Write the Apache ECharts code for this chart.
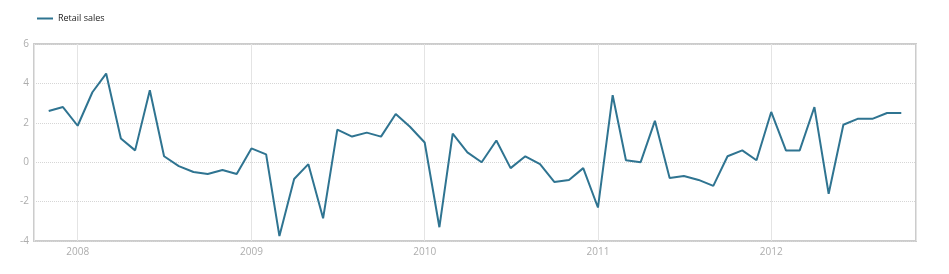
<!DOCTYPE html>
<html>
<head>
<meta charset="utf-8">
<script src="https://cdn.jsdelivr.net/npm/echarts@6/dist/echarts.min.js"></script>
<style>html,body{margin:0;padding:0;background:#fff}#c{width:949px;height:274px}</style>
</head>
<body>
<div id="c"></div>
<script>
const seriesName = 'Retail sales';
const months = [
  '2007-11','2007-12',
  '2008-01','2008-02','2008-03','2008-04','2008-05','2008-06','2008-07','2008-08','2008-09','2008-10','2008-11','2008-12',
  '2009-01','2009-02','2009-03','2009-04','2009-05','2009-06','2009-07','2009-08','2009-09','2009-10','2009-11','2009-12',
  '2010-01','2010-02','2010-03','2010-04','2010-05','2010-06','2010-07','2010-08','2010-09','2010-10','2010-11','2010-12',
  '2011-01','2011-02','2011-03','2011-04','2011-05','2011-06','2011-07','2011-08','2011-09','2011-10','2011-11','2011-12',
  '2012-01','2012-02','2012-03','2012-04','2012-05','2012-06','2012-07','2012-08','2012-09','2012-10'
];
const values = [
  2.6, 2.8,
  1.85, 3.55, 4.5, 1.2, 0.6, 3.65, 0.3, -0.2, -0.5, -0.6, -0.4, -0.6,
  0.7, 0.4, -3.75, -0.85, -0.1, -2.85, 1.65, 1.3, 1.5, 1.3, 2.45, 1.8,
  1.0, -3.3, 1.45, 0.5, 0.0, 1.1, -0.3, 0.3, -0.1, -1.0, -0.9, -0.3,
  -2.3, 3.4, 0.1, 0.0, 2.1, -0.8, -0.7, -0.9, -1.2, 0.3, 0.6, 0.1,
  2.55, 0.6, 0.6, 2.8, -1.6, 1.9, 2.2, 2.2, 2.5, 2.5
];
const xMin = '2007-10-01';
const xMax = '2012-11-01';
const yTicks = [-4, -2, 0, 2, 4, 6];

const data = months.map((m, i) => [m + '-01', values[i]]);
const chart = echarts.init(document.getElementById('c'), null, {renderer: 'canvas'});
const DAY = 24 * 3600 * 1000;
chart.setOption({
  animation: false,
  backgroundColor: '#fff',
  textStyle: {fontFamily: 'Open Sans, DejaVu Sans, sans-serif'},
  legend: {
    show: true, left: 37, top: 14, padding: 0,
    icon: 'rect',
    itemWidth: 16, itemHeight: 2, itemGap: 10,
    textStyle: {fontSize: 9, color: '#222'},
    data: [seriesName]
  },
  grid: {
    left: 34, right: 33, top: 44, bottom: 33,
    show: true, borderColor: '#cccccc', borderWidth: 2, containLabel: false
  },
  xAxis: {
    type: 'time',
    min: xMin, max: xMax,
    minInterval: 365 * DAY, maxInterval: 366 * DAY,
    axisLine: {show: false},
    axisTick: {show: false},
    axisLabel: {
      formatter: '{yyyy}', color: '#adadad', fontSize: 10, margin: 6,
      showMinLabel: false, showMaxLabel: false
    },
    splitLine: {show: true, lineStyle: {color: '#e4e4e4', width: 1, type: 'solid'}}
  },
  yAxis: {
    type: 'value',
    min: yTicks[0], max: yTicks[yTicks.length - 1], interval: 2,
    axisLine: {show: false},
    axisTick: {show: false},
    axisLabel: {color: '#adadad', fontSize: 10, margin: 5},
    splitLine: {show: true, lineStyle: {color: '#d6d6d6', width: 1, type: 'dotted'}}
  },
  series: [{
    name: seriesName,
    type: 'line',
    data: data,
    symbol: 'none',
    lineStyle: {color: '#2f7491', width: 2},
    itemStyle: {color: '#2f7491'}
  }]
});
</script>
</body>
</html>
